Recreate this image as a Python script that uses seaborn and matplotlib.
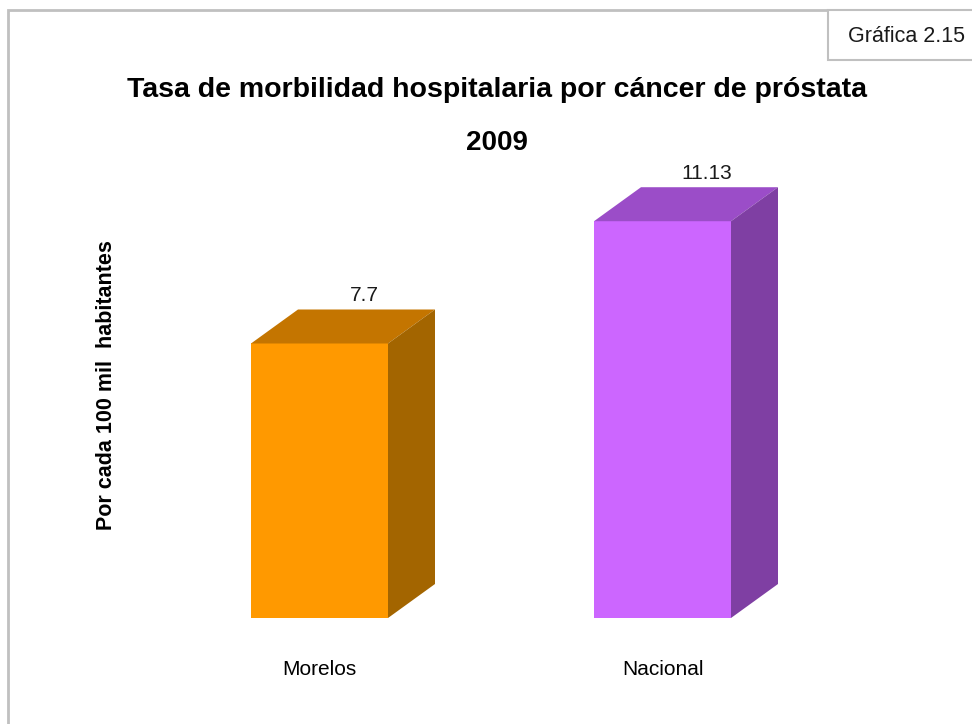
import matplotlib
matplotlib.use("Agg")
import matplotlib.pyplot as plt
from matplotlib.patches import Polygon, Rectangle
import pandas as pd
import seaborn as sns

categories = ["Morelos", "Nacional"]
values = [7.7, 11.13]
value_labels = ["7.7", "11.13"]
front_colors = ["#FF9900", "#CC66FF"]
top_colors = ["#C47500", "#9B4DC8"]
side_colors = ["#A36500", "#7F3FA3"]

title = "Tasa de morbilidad hospitalaria por cáncer de próstata"
subtitle = "2009"
ylabel = "Por cada 100 mil  habitantes"
tag = "Gráfica 2.15"

sns.set_style("white")
plt.rcParams["font.family"] = ["Liberation Sans Narrow", "Liberation Sans", "DejaVu Sans"]
plt.rcParams["text.color"] = "black"
plt.rcParams["xtick.color"] = "black"

W, H = 972, 724
fig = plt.figure(figsize=(W / 100, H / 100), dpi=100)

# axes placed in pixel terms so the bars land where they do in the original
left_px, right_px, top_px, base_px = 150, 850, 150, 618
ax = fig.add_axes([left_px / W, 1 - base_px / H, (right_px - left_px) / W, (base_px - top_px) / H])

px_per_cat = 343.0
px_per_val = 35.65
x0 = 319.5

df = pd.DataFrame({"cat": categories, "val": values})
width = 137 / px_per_cat
sns.barplot(data=df, x="cat", y="val", hue="cat", palette=front_colors,
            width=width, legend=False, ax=ax, saturation=1, linewidth=0)
ax.set_xlim((left_px - x0) / px_per_cat, (right_px - x0) / px_per_cat)
ax.set_ylim(0, (base_px - top_px) / px_per_val)

dx = 47 / px_per_cat
dy = 34 / px_per_val
for i, v in enumerate(values):
    l, r = i - width / 2, i + width / 2
    top = Polygon([(l, v), (r, v), (r + dx, v + dy), (l + dx, v + dy)],
                  closed=True, facecolor=top_colors[i], edgecolor="none", clip_on=False)
    side = Polygon([(r, 0), (r + dx, dy), (r + dx, v + dy), (r, v)],
                   closed=True, facecolor=side_colors[i], edgecolor="none", clip_on=False)
    ax.add_patch(top)
    ax.add_patch(side)
    ax.text(i + dx * 0.95, v + dy + 0.12, value_labels[i], ha="center", va="bottom",
            fontsize=15, color="#1a1a1a")

sns.despine(ax=ax, left=True, bottom=True)
ax.set_yticks([])
ax.set_xlabel("")
ax.set_ylabel("")
ax.tick_params(axis="x", length=0, pad=30, labelsize=15)
ax.set_facecolor("none")

fig.text(497 / W, 1 - 90 / H, title, ha="center", va="center",
         fontsize=20.5, fontweight="bold")
fig.text(497 / W, 1 - 143 / H, subtitle, ha="center", va="center",
         fontsize=20, fontweight="bold")
fig.text(107 / W, 1 - 385 / H, ylabel, ha="center", va="center",
         rotation=90, fontsize=15.5, fontweight="bold")

# outer frame and the tag box in the corner
fig.patches.append(Rectangle((8 / W, -0.05), 1.1, 1 - 10 / H + 0.05, transform=fig.transFigure,
                             facecolor="none", edgecolor="#c0c0c0", linewidth=2, zorder=0))
fig.patches.append(Rectangle((828 / W, 1 - 60 / H), 0.2, 50 / H, transform=fig.transFigure,
                             facecolor="white", edgecolor="#c0c0c0", linewidth=1.5, zorder=1))
fig.text(906 / W, 1 - 37 / H, tag, ha="center", va="center", fontsize=15.5, color="#1a1a1a")

fig.savefig("out.png", dpi=100)
